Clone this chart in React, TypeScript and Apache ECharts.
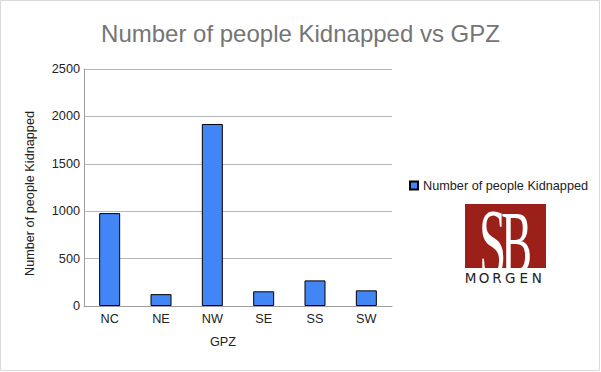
import React, { useEffect, useRef } from "react";
import * as echarts from "echarts";

const categories = ["NC", "NE", "NW", "SE", "SS", "SW"];
const kidnapped = [980, 125, 1920, 155, 270, 165];
const seriesName = "Number of people Kidnapped";
const titleText = "Number of people Kidnapped vs GPZ";
const xName = "GPZ";
const yName = "Number of people Kidnapped";
const logoLetters = ["M", "O", "R", "G", "E", "N"];
const logoLetterX = [470.7, 484, 497, 510.3, 523.8, 536.7];

export default function App() {
  const ref = useRef<HTMLDivElement>(null);
  useEffect(() => {
    if (!ref.current) return;
    const chart = echarts.init(ref.current, undefined, { renderer: "svg" });
    const font = "Liberation Sans, Arial, sans-serif";
    const txt = "#222222";
    chart.setOption({
      animation: false,
      backgroundColor: "#ffffff",
      title: {
        text: titleText,
        left: "center",
        top: 16,
        textStyle: { fontFamily: font, fontSize: 24, fontWeight: "normal", color: "#757575" },
      },
      legend: {
        left: 409,
        top: 179,
        padding: 0,
        icon: "rect",
        itemWidth: 8,
        itemHeight: 8,
        itemGap: 5,
        textStyle: { fontFamily: font, fontSize: 12.7, color: txt },
        data: [seriesName],
      },
      grid: { left: 84, right: 209, top: 69, bottom: 66 },
      xAxis: {
        type: "category",
        data: categories,
        name: xName,
        nameLocation: "middle",
        nameGap: 29,
        nameTextStyle: { fontFamily: font, fontSize: 12.7, color: txt, padding: [0, 30, 0, 0] },
        axisLine: { lineStyle: { color: "#9e9e9e", width: 1 } },
        axisTick: { show: false },
        axisLabel: { fontFamily: font, fontSize: 12.7, color: txt, margin: 6 },
      },
      yAxis: {
        type: "value",
        min: 0,
        max: 2500,
        interval: 500,
        name: yName,
        nameLocation: "middle",
        nameGap: 48,
        nameTextStyle: { fontFamily: font, fontSize: 12.7, color: txt, padding: [0, 12, 0, 0] },
        axisLine: { show: true, lineStyle: { color: "#9e9e9e", width: 1 } },
        axisTick: { show: false },
        axisLabel: {
          fontFamily: font,
          fontSize: 12.7,
          color: txt,
          margin: 4,
          formatter: (v: number) => String(v),
        },
        splitLine: { lineStyle: { color: "#b7b7b7", width: 1 } },
      },
      series: [
        {
          name: seriesName,
          type: "bar",
          data: kidnapped,
          barWidth: 21,
          itemStyle: { color: "#4285f4", borderColor: "#000000", borderWidth: 1 },
        },
      ],
      graphic: [
        {
          type: "rect",
          shape: { x: 0.5, y: 0.5, width: 599, height: 370 },
          style: { fill: "none", stroke: "#d9d9d9", lineWidth: 1 },
          silent: true,
        },
        {
          type: "rect",
          shape: { x: 465, y: 204, width: 81, height: 64 },
          style: { fill: "#9a2019" },
        },
        {
          type: "text",
          x: 479,
          y: 243,
          scaleX: 0.5,
          style: {
            text: "S",
            font: "98px 'Liberation Serif', 'Times New Roman', serif",
            fill: "#ffffff",
            align: "left",
            verticalAlign: "middle",
          },
        },
        {
          type: "text",
          x: 501,
          y: 242,
          scaleX: 0.53,
          style: {
            text: "B",
            font: "88px 'Liberation Serif', 'Times New Roman', serif",
            fill: "#ffffff",
            align: "left",
            verticalAlign: "middle",
          },
        },
        ...logoLetters.map((l, i) => ({
          type: "text",
          x: logoLetterX[i],
          y: 277.5,
          style: {
            text: l,
            font: "13.5px 'DejaVu Sans', sans-serif",
            fill: "#222222",
            align: "center",
            verticalAlign: "middle",
          },
        })),
      ],
    });
    return () => chart.dispose();
  }, []);
  return (
    <div
      ref={ref}
      style={{ position: "absolute", left: 0, top: 0, width: 601, height: 372 }}
    />
  );
}
